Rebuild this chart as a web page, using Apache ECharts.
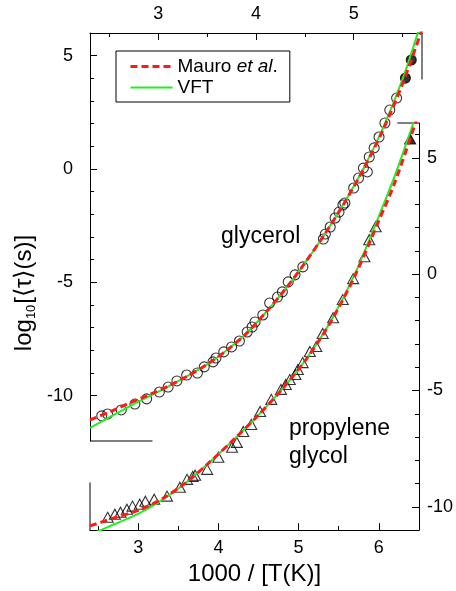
<!DOCTYPE html>
<html>
<head>
<meta charset="utf-8">
<script src="https://cdn.jsdelivr.net/npm/echarts@6/dist/echarts.min.js"></script>
<style>
  html, body { margin: 0; padding: 0; background: #fff; }
  #chart { width: 456px; height: 591px; }
</style>
</head>
<body>
<div id="chart"></div>
<script>
// glycerol -> top x axis / left y axis
const glyTicksX = [3, 4, 5]
const glyMinorX = [2.5, 3.5, 4.5, 5.5]
const glyTicksY = [-10, -5, 0, 5]
const glyMinorY = [-11, -9, -8, -7, -6, -4, -3, -2, -1, 1, 2, 3, 4]
// propylene glycol -> bottom x axis / right y axis
const pgTicksX = [3, 4, 5, 6]
const pgMinorX = [2.5, 3.5, 4.5, 5.5]
const pgTicksY = [-10, -5, 0, 5]
const pgMinorY = [-9, -8, -7, -6, -4, -3, -2, -1, 1, 2, 3, 4, 6]

const glyX = [2.42, 2.48, 2.62, 2.76, 2.88, 3.01, 3.10, 3.19, 3.29, 3.40, 3.47, 3.56, 3.59,
  3.67, 3.75, 3.83, 3.91, 3.96, 3.99, 4.07, 4.14, 4.22, 4.27, 4.33, 4.40, 4.48, 4.69, 4.71,
  4.76, 4.81, 4.85, 4.89, 4.91, 5.00, 5.05, 5.10, 5.14, 5.16, 5.21, 5.26, 5.32, 5.37, 5.44]
const glyY = [-10.89, -10.81, -10.63, -10.37, -10.14, -9.84, -9.62, -9.35, -9.09, -9.00, -8.73, -8.51, -8.34,
  -8.07, -7.85, -7.59, -7.19, -6.97, -6.75, -6.44, -5.91, -5.65, -5.42, -4.98, -4.67, -4.32, -3.09, -2.87,
  -2.56, -2.16, -1.90, -1.59, -1.50, -0.84, -0.40, 0.04, -0.13, 0.53, 0.93, 1.41, 2.03, 2.60, 3.13]
const glyFilledX = [5.53, 5.59]
const glyFilledY = [4.01, 4.81]

const glyVftX = [2.3, 2.5, 2.7, 2.9, 3.1, 3.3, 3.5, 3.7, 3.9, 4.1, 4.3, 4.5, 4.7, 4.9, 5.1, 5.3, 5.5, 5.66]
const glyVftY = [-11.42, -10.95, -10.48, -10.04, -9.6, -9.13, -8.62, -8.0, -7.26, -6.33, -5.3, -4.15, -2.9, -1.52, 0.02, 1.8, 3.95, 6.05]
const glyMauroX = [2.3, 2.5, 2.7, 2.9, 3.1, 3.3, 3.5, 3.7, 3.9, 4.1, 4.3, 4.5, 4.7, 4.9, 5.1, 5.3, 5.5, 5.7]
const glyMauroY = [-11.07, -10.72, -10.33, -9.97, -9.58, -9.13, -8.62, -8.0, -7.26, -6.33, -5.3, -4.15, -2.9, -1.53, -0.02, 1.72, 3.75, 6.15]

const pgX = [2.62, 2.71, 2.78, 2.86, 2.93, 3.02, 3.09, 3.20, 3.36, 3.52, 3.61, 3.68, 3.71, 3.86, 4.00, 4.17,
  4.23, 4.31, 4.41, 4.52, 4.66, 4.78, 4.84, 4.89, 4.96, 4.99, 5.05, 5.14, 5.22, 5.30, 5.43, 5.55, 5.68, 5.82, 5.88, 5.96]
const pgY = [-10.45, -10.32, -10.23, -10.10, -9.97, -9.89, -9.76, -9.67, -9.54, -9.16, -8.82, -8.69, -8.64, -8.39, -7.87, -7.44,
  -7.23, -6.76, -6.46, -5.90, -5.38, -4.95, -4.74, -4.53, -4.31, -4.10, -3.80, -3.32, -3.11, -2.55, -1.87, -1.09, -0.19, 0.75, 1.48, 2.04]
const pgFilledX = [6.39]
const pgFilledY = [5.81]

const pgVftX = [2.4, 2.7, 3.0, 3.3, 3.6, 3.9, 4.2, 4.5, 4.8, 5.1, 5.4, 5.7, 6.0, 6.2, 6.45]
const pgVftY = [-11.2, -10.75, -10.3, -9.7, -8.95, -8.05, -7.08, -6.05, -4.92, -3.62, -2.02, 0.0, 2.5, 4.25, 6.7]
const pgMauroX = [2.4, 2.7, 3.0, 3.3, 3.6, 3.9, 4.2, 4.5, 4.8, 5.1, 5.4, 5.7, 6.0, 6.2, 6.5]
const pgMauroY = [-10.82, -10.48, -10.15, -9.65, -8.95, -8.05, -7.08, -6.05, -4.92, -3.63, -2.05, -0.08, 2.3, 3.95, 6.95]

const FONT = '"Liberation Sans", Arial, sans-serif'
const RED = '#ff1a1a'
const GREEN = '#22ee22'

function pairs(xs, ys) {
  return xs.map((x, i) => [x, ys[i]])
}

function majorAxis(extra, ticks, margin) {
  return Object.assign({
    type: 'value',
    axisLine: { show: true, onZero: false, lineStyle: { color: '#000', width: 1 } },
    axisTick: { show: true, inside: true, length: 7, customValues: ticks, lineStyle: { color: '#000' } },
    axisLabel: { customValues: ticks, margin, color: '#000', fontSize: 18, fontFamily: FONT },
    splitLine: { show: false }
  }, extra)
}

function minorAxis(extra, ticks) {
  return Object.assign({
    type: 'value',
    axisLine: { show: false, onZero: false },
    axisTick: { show: true, inside: true, length: 4, customValues: ticks, lineStyle: { color: '#000' } },
    axisLabel: { show: false },
    splitLine: { show: false }
  }, extra)
}

function frameLine(xi, yi, data) {
  return {
    type: 'line', xAxisIndex: xi, yAxisIndex: yi, data, symbol: 'none', silent: true,
    clip: false, lineStyle: { color: '#000', width: 1 }, z: 1
  }
}

function curve(name, xi, yi, data, dashed) {
  return {
    name, type: 'line', xAxisIndex: xi, yAxisIndex: yi, data, symbol: 'none',
    smooth: 0.3, silent: true,
    itemStyle: { color: dashed ? RED : GREEN },
    lineStyle: dashed ? { color: RED, width: 3, type: [7, 4] } : { color: GREEN, width: 2 },
    z: dashed ? 4 : 3
  }
}

function markers(xi, yi, data, symbol, size, filled) {
  return {
    type: 'scatter', xAxisIndex: xi, yAxisIndex: yi, data, symbol, symbolSize: size, silent: true,
    itemStyle: { color: filled ? '#000' : 'rgba(0,0,0,0)', borderColor: '#000', borderWidth: 1.1 },
    z: 2
  }
}

const chart = echarts.init(document.getElementById('chart'))
chart.setOption({
  animation: false,
  backgroundColor: '#fff',
  grid: [
    { left: 90, top: 33, width: 332, height: 408 },
    { left: 90, top: 123, width: 332, height: 408 }
  ],
  xAxis: [
    majorAxis({ gridIndex: 0, position: 'top', min: 2.3, max: 5.7 }, glyTicksX, 10),
    minorAxis({ gridIndex: 0, position: 'top', min: 2.3, max: 5.7 }, glyMinorX),
    majorAxis({
      gridIndex: 1, position: 'bottom', min: 2.4, max: 6.5,
      name: '1000 / [T(K)]', nameLocation: 'middle', nameGap: 31,
      nameTextStyle: { color: '#000', fontSize: 24, fontFamily: FONT }
    }, pgTicksX, 9),
    minorAxis({ gridIndex: 1, position: 'bottom', min: 2.4, max: 6.5 }, pgMinorX)
  ],
  yAxis: [
    majorAxis({ gridIndex: 0, position: 'left', min: -12, max: 6 }, glyTicksY, 17),
    minorAxis({ gridIndex: 0, position: 'left', min: -12, max: 6 }, glyMinorY),
    majorAxis({ gridIndex: 1, position: 'right', min: -11, max: 6.5 }, pgTicksY, 8),
    minorAxis({ gridIndex: 1, position: 'right', min: -11, max: 6.5 }, pgMinorY)
  ],
  legend: {
    left: 116, top: 51, orient: 'vertical',
    padding: [6, 12, 5, 13], itemGap: 2, itemWidth: 42, itemHeight: 14, itemTextGap: 6,
    borderColor: '#000', borderWidth: 1, backgroundColor: '#fff',
    itemStyle: { color: 'rgba(0,0,0,0)', borderColor: 'rgba(0,0,0,0)', borderWidth: 0 },
    data: [
      { name: 'Mauro et al.', lineStyle: { width: 3 } },
      { name: 'VFT', lineStyle: { width: 2 } }
    ],
    formatter: name => name === 'Mauro et al.' ? '{n|Mauro }{i|et al}{n|.}' : '{n|' + name + '}',
    textStyle: {
      rich: {
        n: { fontSize: 19, fontFamily: FONT, color: '#000' },
        i: { fontSize: 19, fontFamily: FONT, fontStyle: 'italic', color: '#000' }
      }
    }
  },
  graphic: [
    {
      type: 'text', x: 24, y: 293, rotation: Math.PI / 2,
      style: {
        text: '{a|log}{s|10}{a|[⟨τ⟩(s)]}', align: 'center', verticalAlign: 'middle',
        rich: {
          a: { fontSize: 24, fontFamily: FONT, fill: '#000', lineHeight: 28 },
          s: { fontSize: 13, fontFamily: FONT, fill: '#000', verticalAlign: 'bottom', lineHeight: 13, padding: [0, 1, 0, 0] }
        }
      }
    },
    { type: 'text', left: 221, top: 225, style: { text: 'glycerol', fontSize: 23, fontFamily: FONT, fill: '#000' } },
    { type: 'text', left: 289, top: 415, style: { text: 'propylene\nglycol', fontSize: 23, lineHeight: 28, fontFamily: FONT, fill: '#000' } }
  ],
  series: [
    // partial frame pieces
    frameLine(0, 0, [[2.3, -12], [2.94, -12]]),
    frameLine(0, 0, [[5.7, 6], [5.7, 3.95]]),
    frameLine(2, 2, [[6.23, 6.5], [6.5, 6.5]]),
    frameLine(2, 2, [[2.4, -11], [2.4, -8.95]]),
    // glycerol
    markers(0, 0, pairs(glyX, glyY), 'circle', 10, false),
    markers(0, 0, pairs(glyFilledX, glyFilledY), 'circle', 10, true),
    curve('VFT', 0, 0, pairs(glyVftX, glyVftY), false),
    curve('Mauro et al.', 0, 0, pairs(glyMauroX, glyMauroY), true),
    // propylene glycol
    markers(2, 2, pairs(pgX, pgY), 'triangle', [11, 10], false),
    markers(2, 2, pairs(pgFilledX, pgFilledY), 'triangle', [11, 10], true),
    curve('VFT', 2, 2, pairs(pgVftX, pgVftY), false),
    curve('Mauro et al.', 2, 2, pairs(pgMauroX, pgMauroY), true)
  ]
})
</script>
</body>
</html>
